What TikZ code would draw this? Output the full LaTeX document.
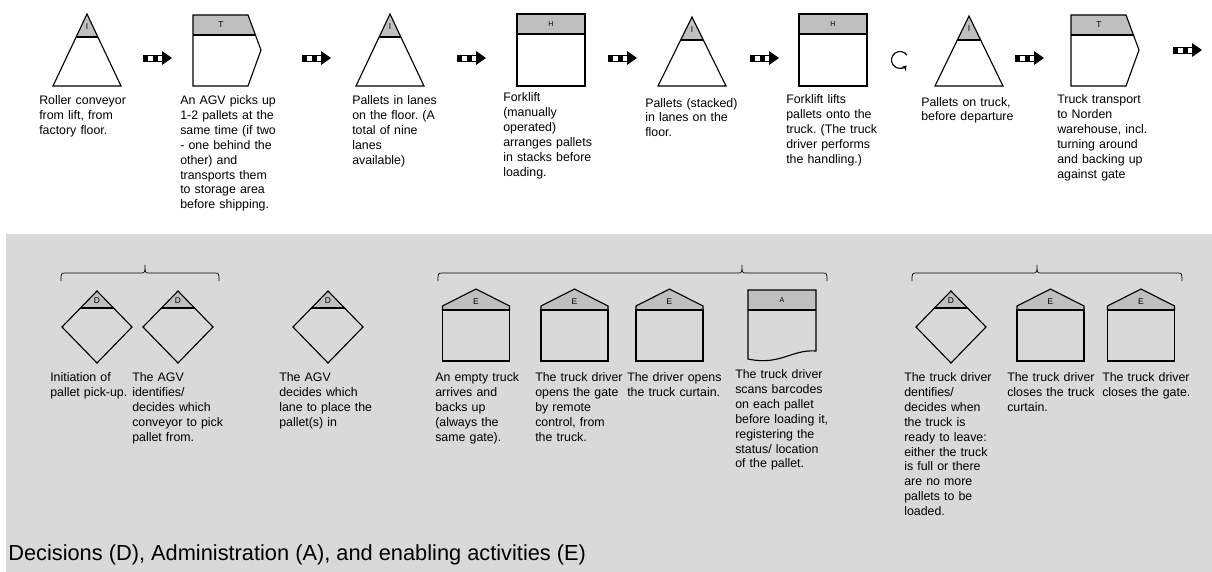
\documentclass[tikz,border=0pt]{standalone}
\usepackage{fontspec}
\setmainfont{Liberation Sans}
\usepackage{tikz}
\usetikzlibrary{arrows.meta}
\usepackage{xcolor}
\definecolor{panelgray}{HTML}{D9D9D9}
\definecolor{bandgray}{HTML}{BFBFBF}
\frenchspacing

\tikzset{
  note/.style={anchor=base west, inner sep=0pt, text width=2.9cm, align=left,
    font=\fontsize{8.8}{10.6}\selectfont},
  tag/.style={inner sep=0pt, font=\fontsize{6}{7}\selectfont},
  outline/.style={line width=0.8pt, line join=miter},
  band/.style={line width=1.3pt},
}

% striped block arrow: name, x, y
\newcommand{\flowarrow}[3]{%
  \coordinate (#1) at (#2,#3);
  \draw[line width=0.6pt, fill=white] (#2,#3-3) rectangle (#2+20,#3+3);
  \fill (#2,#3-3) rectangle (#2+5,#3+3);
  \fill (#2+10,#3-3) rectangle (#2+15,#3+3);
  \fill (#2+19,#3-7) -- (#2+29,#3) -- (#2+19,#3+7) -- cycle;
}
% inventory triangle: name, cx, apex y, band y
\newcommand{\invtri}[4]{%
  \coordinate (#1) at (#2,#3);
  \begin{scope}
    \clip (#2,#3) -- (#2-34,86) -- (#2+34,86) -- cycle;
    \fill[bandgray] (#2-40,#3) rectangle (#2+40,#4);
    \draw[band] (#2-40,#4) -- (#2+40,#4);
  \end{scope}
  \draw[outline] (#2,#3) -- (#2-34,86) -- (#2+34,86) -- cycle;
  \node[tag] (#1-tag) at (#2,{(#3+#4)/2+1}) {I};
}
% transport pentagon: name, left x
\newcommand{\transport}[2]{%
  \coordinate (#1) at (#2,15);
  \begin{scope}
    \clip (#2,15) -- (#2+55,15) -- (#2+68,50) -- (#2+55,86) -- (#2,86) -- cycle;
    \fill[bandgray] (#2,15) rectangle (#2+70,35);
    \draw[band] (#2,35) -- (#2+70,35);
  \end{scope}
  \draw[outline] (#2,15) -- (#2+55,15) -- (#2+68,50) -- (#2+55,86) -- (#2,86) -- cycle;
  \node[tag] (#1-tag) at (#2+28,25) {T};
}
% handling box: name, left x
\newcommand{\handling}[2]{%
  \coordinate (#1) at (#2,14);
  \fill[bandgray] (#2,14) rectangle (#2+68,34);
  \draw[band] (#2,34) -- (#2+68,34);
  \draw[outline] (#2,14) rectangle (#2+68,86);
  \node[tag, font=\fontsize{5}{6}\selectfont] (#1-tag) at (#2+34,24) {H};
}
% decision diamond: name, cx, cy
\newcommand{\decision}[3]{%
  \coordinate (#1) at (#2,#3);
  \begin{scope}
    \clip (#2,#3-36) -- (#2+35,#3) -- (#2,#3+36) -- (#2-35,#3) -- cycle;
    \fill[bandgray] (#2-40,#3-40) rectangle (#2+40,#3-19);
    \draw[band] (#2-40,#3-19) -- (#2+40,#3-19);
  \end{scope}
  \draw[outline] (#2,#3-36) -- (#2+35,#3) -- (#2,#3+36) -- (#2-35,#3) -- cycle;
  \node[tag] (#1-tag) at (#2,#3-26) {D};
}
% enabling house: name, cx
\newcommand{\enabling}[2]{%
  \coordinate (#1) at (#2,289);
  \filldraw[outline, fill=bandgray] (#2-33.5,310) -- (#2-33.5,306) -- (#2,289)
    -- (#2+33.5,306) -- (#2+33.5,310) -- cycle;
  \draw[outline] (#2-33.5,310) rectangle (#2+33.5,361);
  \node[tag] (#1-tag) at (#2,302) {E};
}
% flat brace over a group: left x, middle x, right x
\newcommand{\groupbrace}[3]{%
  \draw[line width=0.5pt] (#1,281) .. controls (#1,274) and (#1,273) .. (#1+4,273)
    -- (#2-3,273) .. controls (#2,273) and (#2,271) .. (#2,265)
    .. controls (#2,271) and (#2,273) .. (#2+3,273)
    -- (#3-4,273) .. controls (#3,273) and (#3,274) .. (#3,281);
}

\begin{document}
\begin{tikzpicture}[x=0.025cm, y=-0.025cm]
\useasboundingbox (0,0) rectangle (1212,572);
\fill[panelgray] (6,234) rectangle (1212,572);

% main flow
\invtri{inv1}{87}{14}{37}
\flowarrow{fa1}{143}{58}
\transport{tra1}{193}
\flowarrow{fa2}{302}{58}
\invtri{inv2}{390}{14}{37}
\flowarrow{fa3}{457}{58}
\handling{han1}{517}
\flowarrow{fa4}{608}{58}
\invtri{inv3}{692}{17}{40}
\flowarrow{fa5}{750}{58}
\handling{han2}{799}
\draw[line width=0.8pt, -{Stealth[length=3.5pt,width=4.5pt]}] (900,60) ++(-35:8.5)
  arc[start angle=-35, end angle=-320, radius=8.5];
\invtri{inv4}{969}{16}{40}
\flowarrow{fa6}{1015}{58}
\transport{tra2}{1071}
\flowarrow{fa7}{1173}{50}

\node[note] (roller) at (39,104.5) {Roller conveyor\\from lift, from\\factory floor.};
\node[note] (agvpick) at (180,104.5) {An AGV picks up\\1-2 pallets at the\\same time (if two\\- one behind the\\other) and\\transports them\\to storage area\\before shipping.};
\node[note] (lanes) at (352,104.5) {Pallets in lanes\\on the floor. (A\\total of nine\\lanes\\available)};
\node[note] (arrange) at (503,101.5) {Forklift\\(manually\\operated)\\arranges pallets\\in stacks before\\loading.};
\node[note] (stacked) at (645,107) {Pallets (stacked)\\in lanes on the\\floor.};
\node[note] (lift) at (786,103.5) {Forklift lifts\\pallets onto the\\truck. (The truck\\driver performs\\the handling.)};
\node[note] (ontruck) at (921,106) {Pallets on truck,\\before departure};
\node[note] (transport) at (1057,103.5) {Truck transport\\to Norden\\warehouse, incl.\\turning around\\and backing up\\against gate};

% decisions, administration, enabling activities
\groupbrace{61}{145}{219}
\groupbrace{438}{742}{827}
\groupbrace{912}{1037}{1182}

\decision{dec1}{97}{327}
\decision{dec2}{178}{327}
\decision{dec3}{328}{327}
\decision{dec4}{951}{327}
\enabling{ena1}{476}
\enabling{ena2}{574.5}
\enabling{ena3}{669.5}
\enabling{ena4}{1050.5}
\enabling{ena5}{1141}
% administration document
\coordinate (adm) at (748,290);
\fill[bandgray] (748,290) rectangle (816,310);
\draw[band] (748,310) -- (816,310);
\draw[outline] (748,290) -- (816,290) -- (816,351)
  .. controls (792,349) and (780,366) .. (748,359) -- cycle;
\node[tag, font=\fontsize{5}{6}\selectfont] (adm-tag) at (782,300) {A};

\node[note] (pickinit) at (50,381.5) {Initiation of\\pallet pick-up.};
\node[note] (agvconv) at (132,381.5) {The AGV\\identifies/\\decides which\\conveyor to pick\\pallet from.};
\node[note] (agvlane) at (279,381.5) {The AGV\\decides which\\lane to place the\\pallet(s) in};
\node[note] (arrive) at (435,381.5) {An empty truck\\arrives and\\backs up\\(always the\\same gate).};
\node[note] (gateopen) at (535,381.5) {The truck driver\\opens the gate\\by remote\\control, from\\the truck.};
\node[note] (curtainopen) at (627,381.5) {The driver opens\\the truck curtain.};
\node[note] (scan) at (735,378.5) {The truck driver\\scans barcodes\\on each pallet\\before loading it,\\registering the\\status/ location\\of the pallet.};
\node[note] (leave) at (904,381.5) {The truck driver\\dentifies/\\decides when\\the truck is\\ready to leave:\\either the truck\\is full or there\\are no more\\pallets to be\\loaded.};
\node[note] (curtainclose) at (1007,381.5) {The truck driver\\closes the truck\\curtain.};
\node[note] (gateclose) at (1102,381.5) {The truck driver\\closes the gate.};

\node[anchor=base west, inner sep=0pt, font=\fontsize{15.5}{17}\selectfont] (legend) at (8,560)
  {Decisions (D), Administration (A), and enabling activities (E)};
\end{tikzpicture}
\end{document}
